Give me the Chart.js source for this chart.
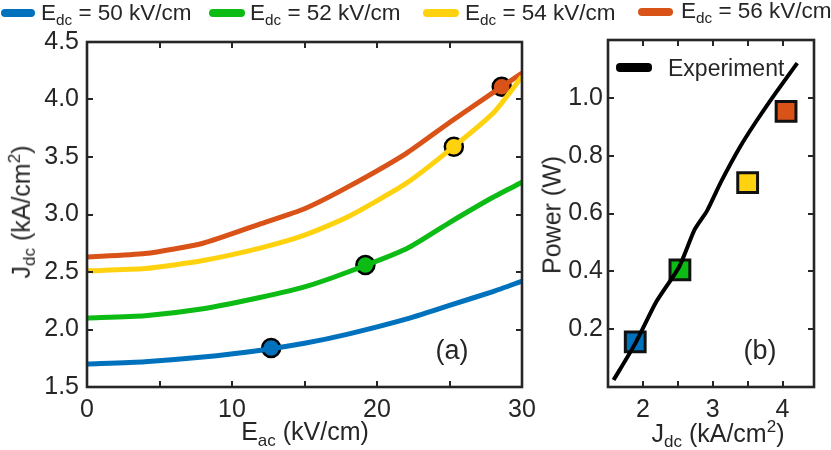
<!DOCTYPE html>
<html>
<head>
<meta charset="utf-8">
<script src="https://cdn.jsdelivr.net/npm/chart.js@4"></script>
<style>
  body { margin: 0; width: 831px; height: 450px; background: #fff; position: relative; overflow: hidden;
         font-family: "Liberation Sans", Arial, sans-serif; color: #262626; }
  canvas { position: absolute; top: 0; }
  .t { position: absolute; white-space: nowrap; line-height: 1; }
  .t sub { font-size: 0.68em; vertical-align: -0.3em; }
  .t sup { font-size: 0.68em; vertical-align: 0.6em; }
  .sw { position: absolute; height: 8px; border-radius: 4px; }
</style>
</head>
<body>
<canvas id="rel1" width="540" height="450" style="left:0"></canvas>
<canvas id="rel2" width="291" height="450" style="left:540px"></canvas>

<!-- legenda de cima -->
<div class="sw" style="left:1px;top:9px;width:34px;background:#0072BD"></div>
<div class="t" style="left:41px;top:2px;font-size:22.5px">E<sub>dc</sub> = 50 kV/cm</div>
<div class="sw" style="left:209px;top:9px;width:36px;background:#0CBB14"></div>
<div class="t" style="left:250px;top:2px;font-size:22.5px">E<sub>dc</sub> = 52 kV/cm</div>
<div class="sw" style="left:423px;top:9px;width:36px;background:#FFD20F"></div>
<div class="t" style="left:465px;top:2px;font-size:22.5px">E<sub>dc</sub> = 54 kV/cm</div>
<div class="sw" style="left:638px;top:8px;width:35px;background:#D95319"></div>
<div class="t" style="left:681px;top:0px;font-size:22.5px">E<sub>dc</sub> = 56 kV/cm</div>

<!-- titulos dos eixos -->
<div class="t" style="left:22px;top:212px;font-size:25px;transform:translate(-50%,-50%) rotate(-90deg)">J<sub>dc</sub> (kA/cm<sup>2</sup>)</div>
<div class="t" style="left:305px;top:434px;font-size:25px;transform:translate(-50%,-50%)">E<sub>ac</sub> (kV/cm)</div>
<div class="t" style="left:552px;top:215px;font-size:25px;transform:translate(-50%,-50%) rotate(-90deg)">Power (W)</div>
<div class="t" style="left:718px;top:434px;font-size:25px;transform:translate(-50%,-50%)">J<sub>dc</sub> (kA/cm<sup>2</sup>)</div>

<div class="t" style="left:452px;top:350px;font-size:27px;transform:translate(-50%,-50%)">(a)</div>
<div class="t" style="left:760px;top:350px;font-size:27px;transform:translate(-50%,-50%)">(b)</div>

<div class="sw" style="left:616px;top:63px;width:36px;height:9px;background:#000"></div>
<div class="t" style="left:668px;top:57px;font-size:23px">Experiment</div>

<script>
// dados do painel (a)
var eac = [0, 4, 8, 12, 15, 18, 22, 25, 28, 30];
var jdc50 = [1.70, 1.72, 1.76, 1.82, 1.88, 1.96, 2.09, 2.21, 2.33, 2.42];
var jdc52 = [2.10, 2.12, 2.18, 2.28, 2.37, 2.50, 2.70, 2.93, 3.15, 3.28];
var jdc54 = [2.51, 2.53, 2.60, 2.71, 2.82, 2.98, 3.27, 3.56, 3.88, 4.20];
var jdc56 = [2.63, 2.66, 2.75, 2.92, 3.05, 3.24, 3.53, 3.80, 4.06, 4.23];
// pontos de operacao (circulos)
var opEac = [12.7, 19.2, 25.3, 28.6];
var opJdc = [1.84, 2.56, 3.59, 4.11];

// dados do painel (b)
var expJdc = [1.58, 1.89, 2.18, 2.52, 2.74, 2.92, 3.12, 3.39, 3.64, 3.91, 4.21];
var expPower = [0.024, 0.15, 0.29, 0.416, 0.544, 0.61, 0.71, 0.83, 0.925, 1.02, 1.12];
var simJdc = [1.89, 2.53, 3.50, 4.05];
var simPower = [0.156, 0.405, 0.707, 0.953];

var colors = ['#0072BD', '#0CBB14', '#FFD20F', '#D95319'];

function pts(xs, ys) {
	return xs.map(function (x, i) { return {x: x, y: ys[i]}; });
}

// caixa com ticks para dentro (estilo matlab)
var boxTicks = {
	id: 'boxTicks',
	afterDraw: function (chart) {
		var ctx = chart.ctx, a = chart.chartArea, sx = chart.scales.x, sy = chart.scales.y;
		ctx.save();
		ctx.strokeStyle = '#262626';
		ctx.lineWidth = 2;
		ctx.beginPath();
		sx.ticks.forEach(function (t) {
			var p = Math.round(sx.getPixelForValue(t.value));
			ctx.moveTo(p, a.bottom); ctx.lineTo(p, a.bottom - 6);
			ctx.moveTo(p, a.top); ctx.lineTo(p, a.top + 6);
		});
		sy.ticks.forEach(function (t) {
			var p = Math.round(sy.getPixelForValue(t.value));
			ctx.moveTo(a.left, p); ctx.lineTo(a.left + 6, p);
			ctx.moveTo(a.right, p); ctx.lineTo(a.right - 6, p);
		});
		ctx.stroke();
		ctx.lineWidth = 2.6;
		ctx.strokeRect(a.left, a.top, a.right - a.left, a.bottom - a.top);
		ctx.restore();
	}
};

// tamanho fixo dos eixos, sem folga extra para os rotulos
function fixX(s) { s.height = 63; s.paddingLeft = 0; s.paddingRight = 0; }
function noPad(s) { s.paddingTop = 0; s.paddingBottom = 0; }

Chart.defaults.font.family = '"Liberation Sans", Arial, sans-serif';
Chart.defaults.color = '#262626';
Chart.defaults.animation = false;

var lines = [jdc50, jdc52, jdc54, jdc56].map(function (ys, i) {
	return {
		data: pts(eac, ys),
		showLine: true,
		borderColor: colors[i],
		backgroundColor: colors[i],
		borderWidth: 5,
		pointRadius: 0,
		tension: 0.2
	};
});
var circles = opEac.map(function (x, i) {
	return {
		data: [{x: x, y: opJdc[i]}],
		pointRadius: 9,
		pointBorderWidth: 2.5,
		pointBorderColor: '#000',
		pointBackgroundColor: colors[i],
		clip: false
	};
});

var rel1 = new Chart(document.getElementById('rel1'), {
	type: 'scatter',
	data: {datasets: lines.concat(circles)},
	options: {
		responsive: false,
		layout: {padding: {left: 0, right: 18, top: 42, bottom: 0}},
		plugins: {legend: {display: false}, tooltip: {enabled: false}},
		scales: {
			x: {
				min: 0, max: 30,
				grid: {display: false, drawTicks: false},
				border: {display: false},
				ticks: {
					stepSize: 5, padding: 8, maxRotation: 0, autoSkip: false,
					font: {size: 25},
					callback: function (v) { return v % 10 === 0 ? String(v) : ''; }
				},
				afterFit: fixX
			},
			y: {
				min: 1.5, max: 4.5,
				grid: {display: false, drawTicks: false},
				border: {display: false},
				ticks: {
					stepSize: 0.5, padding: 8, font: {size: 25},
					callback: function (v) { return v.toFixed(1); }
				},
				afterFit: function (s) { s.width = 87; noPad(s); }
			}
		}
	},
	plugins: [boxTicks]
});

var squares = simJdc.map(function (x, i) {
	return {
		data: [{x: x, y: simPower[i]}],
		pointStyle: 'rect',
		pointRadius: 14,
		pointBorderWidth: 3,
		pointBorderColor: '#111',
		pointBackgroundColor: colors[i]
	};
});

var rel2 = new Chart(document.getElementById('rel2'), {
	type: 'scatter',
	data: {
		datasets: [{
			data: pts(expJdc, expPower),
			showLine: true,
			borderColor: '#000',
			borderWidth: 4,
			pointRadius: 0,
			tension: 0.2
		}].concat(squares)
	},
	options: {
		responsive: false,
		layout: {padding: {left: 0, right: 4, top: 40, bottom: 0}},
		plugins: {legend: {display: false}, tooltip: {enabled: false}},
		scales: {
			x: {
				min: 1.5, max: 4.45,
				grid: {display: false, drawTicks: false},
				border: {display: false},
				ticks: {
					stepSize: 0.5, includeBounds: false, padding: 8, maxRotation: 0, autoSkip: false,
					font: {size: 25},
					callback: function (v) { return Math.abs(v - Math.round(v)) < 1e-6 && v >= 2 ? String(Math.round(v)) : ''; }
				},
				afterFit: fixX
			},
			y: {
				min: 0, max: 1.2,
				grid: {display: false, drawTicks: false},
				border: {display: false},
				ticks: {
					stepSize: 0.2, padding: 5, font: {size: 25},
					callback: function (v) { return (v > 0.05 && v < 1.15) ? v.toFixed(1) : ''; }
				},
				afterFit: function (s) { s.width = 68; noPad(s); }
			}
		}
	},
	plugins: [boxTicks]
});
</script>
</body>
</html>
